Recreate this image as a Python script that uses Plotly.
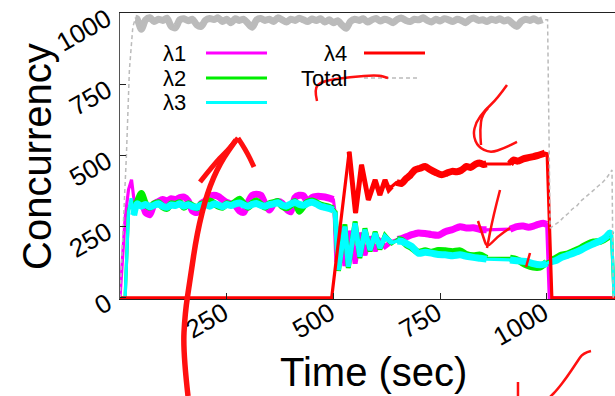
import plotly.graph_objects as go

# ---------------------------------------------------------------------------
# Concurrency of four function classes (λ1..λ4) and their total over time
# ---------------------------------------------------------------------------

# regular sample times of the steady first half (s)
t_steady = list(range(40, 500, 10))          # 40 .. 490

# λ1
lam1_head_t = [0, 12, 20, 27, 34]
lam1_head = [0, 280, 380, 415, 330]
lam1_steady = [340, 345, 300, 292, 330, 338, 345, 340, 348, 345,
               352, 354, 340, 305, 300, 330, 340, 356, 360, 356,
               345, 335, 330, 325, 305, 300, 335, 360, 364, 360,
               330, 308, 330, 338, 332, 312, 302, 352, 360, 358,
               338, 352, 356, 356, 354, 350]
lam1_tail_t = [500, 504, 508, 518, 527, 540, 551, 562, 574, 586,
               598, 609, 621, 637, 650, 660, 672, 684, 699, 715,
               730, 746, 762, 780, 797, 812, 828, 844, 859, 914,
               930, 945, 957, 969, 980, 992, 1000, 1006, 1160]
lam1_tail = [345, 300, 125, 250, 112, 235, 120, 228, 150, 215,
             165, 200, 180, 198, 205, 208, 215, 222, 228, 226,
             222, 220, 232, 240, 250, 245, 246, 240, 239, 241,
             250, 252, 248, 252, 258, 262, 258, 0, 0]

# λ2
lam2_head_t = [0, 12, 20, 28, 34]
lam2_head = [0, 0, 310, 340, 320]
lam2_steady = [335, 366, 330, 318, 330, 334, 320, 314, 330, 328,
               334, 318, 330, 323, 316, 328, 333, 340, 332, 322,
               318, 330, 327, 336, 346, 330, 318, 332, 340, 328,
               318, 330, 334, 338, 322, 316, 326, 338, 304, 322,
               336, 340, 334, 326, 322, 318]

# shared sample times of λ2 / λ3 after 500 s
t_late = [500, 504, 512, 527, 535, 551, 562, 574, 586, 598,
          609, 621, 637, 650, 660, 672, 684, 699, 715, 730,
          746, 762, 780, 797, 812, 828, 844, 859, 914, 930,
          953, 968, 984, 994, 1000, 1008, 1020, 1035, 1050, 1065,
          1080, 1095, 1110, 1125, 1140, 1148, 1152, 1158, 1160]
lam2_tail = [312, 305, 95, 258, 105, 268, 140, 244, 163, 232,
             170, 218, 190, 205, 202, 186, 176, 160, 165, 160,
             166, 165, 162, 165, 152, 148, 150, 139, 139, 134,
             115, 108, 108, 118, 125, 130, 138, 150, 155, 165,
             175, 188, 196, 198, 210, 222, 218, 0, 0]

# λ3
lam3_head_t = [0, 12, 20, 26, 32]
lam3_head = [0, 0, 300, 350, 290]
lam3_steady = [330, 322, 328, 320, 325, 330, 322, 318, 326, 324,
               330, 322, 327, 320, 318, 325, 328, 322, 330, 326,
               320, 328, 324, 330, 333, 326, 322, 328, 331, 325,
               322, 327, 330, 334, 326, 322, 330, 335, 328, 325,
               332, 336, 330, 322, 318, 314]
lam3_tail = [308, 300, 98, 250, 110, 262, 145, 239, 168, 227,
             175, 215, 193, 200, 198, 190, 180, 157, 160, 157,
             152, 151, 148, 151, 146, 142, 139, 136, 133, 130,
             127, 120, 116, 118, 122, 126, 130, 142, 150, 158,
             168, 180, 190, 200, 215, 228, 222, 0, 0]

# λ4
lam4_t = [0, 496, 537, 552, 566, 582, 598, 609, 621, 630,
          637, 648, 660, 670, 680, 691, 703, 715, 727, 740,
          754, 766, 778, 789, 800, 812, 822, 834, 844, 852,
          859, 914, 922, 932, 945, 957, 969, 980, 988, 996,
          1001, 1012, 1160]
lam4 = [0, 0, 513, 298, 467, 344, 414, 361, 414, 380,
        391, 405, 402, 418, 430, 449, 455, 461, 450, 440,
        432, 438, 444, 443, 448, 461, 458, 470, 473, 468,
        470, 470, 484, 480, 488, 492, 496, 500, 504, 508,
        506, 0, 0]

# Total
total_head_t = [0, 10, 15, 22, 30, 36]
total_head = [0, 300, 500, 800, 950, 982]
total_mid_t = list(range(40, 1000, 10))      # 40 .. 990
total_mid = [980, 943, 976, 983, 970, 978, 974, 982, 953, 948,
             976, 980, 973, 978, 958, 953, 974, 981, 977, 983,
             970, 978, 966, 980, 974, 978, 963, 950, 976, 981,
             974, 978, 970, 983, 976, 968, 978, 974, 982, 976,
             970, 979, 974, 980, 968, 976, 966, 973, 958, 946,
             970, 978, 974, 980, 968, 976, 981, 972, 978, 974,
             966, 978, 982, 974, 970, 978, 976, 983, 974, 968,
             978, 972, 980, 976, 970, 978, 974, 966, 978, 982,
             974, 976, 970, 978, 974, 980, 972, 976, 963, 953,
             970, 978, 974, 980, 972, 976]
total_tail_t = [1002, 1008, 1020, 1030, 1040, 1050, 1060, 1070, 1080, 1090,
                1100, 1110, 1120, 1130, 1140, 1148, 1153, 1156, 1160]
total_tail = [976, 245, 258, 268, 284, 296, 312, 322, 340, 352,
              366, 378, 392, 404, 420, 436, 449, 0, 0]

x_ticks = [250, 500, 750, 1000]
y_ticks = [0, 250, 500, 750, 1000]

# stretches drawn heavier: (start s, end s, line width)
STEADY, SETTLE = 7, 5
series = [
    ("λ1", "#ff00ff", lam1_head_t + t_steady + lam1_tail_t,
     lam1_head + lam1_steady + lam1_tail,
     [(34, 500, STEADY), (504, 640, SETTLE), (640, 859, STEADY), (914, 1000, STEADY)]),
    ("λ2", "#00ee00", lam2_head_t + t_steady + t_late,
     lam2_head + lam2_steady + lam2_tail,
     [(34, 500, STEADY), (504, 640, SETTLE), (640, 859, STEADY), (914, 1000, STEADY),
      (1008, 1152, STEADY)]),
    ("λ3", "#00ffff", lam3_head_t + t_steady + t_late,
     lam3_head + lam3_steady + lam3_tail,
     [(32, 500, STEADY), (504, 640, SETTLE), (640, 859, STEADY), (914, 1000, STEADY),
      (1008, 1152, STEADY)]),
    ("λ4", "#ff0000", lam4_t, lam4,
     [(537, 640, SETTLE), (640, 859, STEADY), (914, 1000, STEADY)]),
]
total_t = total_head_t + total_mid_t + total_tail_t
total = total_head + total_mid + total_tail

# ---------------------------------------------------------------------------
FONT = "Liberation Sans, Arial, Helvetica, sans-serif"
W, H = 615, 396
ML, MR, MT, MB = 120, 0, 13, 97
TICK_SIZE = 26


def px(x):
    """pixel column -> paper x"""
    return (x - ML) / (W - ML - MR)


def py(y):
    """pixel row -> paper y"""
    return (H - MB - y) / (H - MT - MB)


def in_window(ts, vs, a, b):
    """keep one jittery stretch only, blank elsewhere"""
    return [v if a <= t <= b else None for t, v in zip(ts, vs)]


def band_line(color, lw):
    # steady stretches get rounded joins; the settling swings stay sharp
    if lw == STEADY:
        return dict(color=color, width=lw, shape="spline", smoothing=0.7)
    return dict(color=color, width=lw)


fig = go.Figure()

for name, color, ts, vs, windows in series:
    fig.add_trace(go.Scatter(x=ts, y=vs, mode="lines", name=name,
                             line=dict(color=color, width=3.2),
                             showlegend=False, hoverinfo="skip"))
    for a, b, lw in windows:
        fig.add_trace(go.Scatter(x=ts, y=in_window(ts, vs, a, b), mode="lines",
                                 line=band_line(color, lw),
                                 connectgaps=False, showlegend=False,
                                 hoverinfo="skip"))

GRAY = "#bbbbbb"
fig.add_trace(go.Scatter(x=total_t, y=in_window(total_t, total, 36, 1000),
                         mode="lines", line=band_line(GRAY, STEADY),
                         connectgaps=False, showlegend=False, hoverinfo="skip"))
fig.add_trace(go.Scatter(x=total_t, y=total, mode="lines", name="Total",
                         line=dict(color=GRAY, width=1.5, dash="4px,3px"),
                         showlegend=False, hoverinfo="skip"))

# ---- axes ---------------------------------------------------------------
axis_common = dict(
    showgrid=False, zeroline=False, showline=True,
    linewidth=1.2, ticks="inside", ticklen=6, tickwidth=1, tickcolor="#222222",
)
fig.update_xaxes(range=[0, 1160], tickvals=x_ticks,
                 ticktext=[str(v) for v in x_ticks], mirror=True,
                 linecolor="#222222", tickangle=-30,
                 tickfont=dict(family=FONT, size=TICK_SIZE, color="black"),
                 ticklabelstandoff=-12, ticklabelshift=-3,
                 **axis_common)
fig.update_yaxes(range=[-4, 1000], tickvals=y_ticks, showticklabels=False,
                 linecolor="#555555", **axis_common)

annotations = [
    dict(text="Concurrency", x=px(37), y=py(157), textangle=-90,
         font=dict(family=FONT, size=40, color="black")),
    dict(text="Time (sec)", x=px(373), y=py(372),
         font=dict(family=FONT, size=40, color="black")),
]

# slanted value labels on the left axis, right end pinned next to each tick
for v in y_ticks:
    label = str(v)
    run = 0.556 * TICK_SIZE * len(label)           # text length in px
    annotations.append(dict(
        text=label, x=px(109 - 0.433 * run), y=v, yref="y",
        yshift=-(3 + 0.25 * run), textangle=-30,
        font=dict(family=FONT, size=TICK_SIZE, color="black")))

# ---- key: label to the left of a line sample, two columns ---------------
key_rows = [
    ("λ1", "#ff00ff", 188, 206, 267, 53, "solid", 3),
    ("λ2", "#00ee00", 188, 206, 267, 78, "solid", 3),
    ("λ3", "#00ffff", 188, 206, 267, 102.5, "solid", 3),
    ("λ4", "#ff0000", 349, 364, 425, 53, "solid", 3),
    ("Total", GRAY, 349, 364, 420, 78, "4px,3px", 1.5),
]
shapes = []
for label, color, tx, x0, x1, y, dash, lw in key_rows:
    annotations.append(dict(text=label, x=px(tx), y=py(y), xanchor="right",
                            yanchor="middle",
                            font=dict(family=FONT, size=22, color="black")))
    shapes.append(dict(type="line", xref="paper", yref="paper",
                       x0=px(x0), x1=px(x1), y0=py(y), y1=py(y),
                       line=dict(color=color, width=lw, dash=dash)))

for a in annotations:
    a.setdefault("xref", "paper")
    a.setdefault("yref", "paper")
    a.update(showarrow=False)
    a.setdefault("xanchor", "center")
    a.setdefault("yanchor", "middle")

# ---- red ink marks drawn over the chart ----------------------------------
ink = [
    (5.5, [(188, 396), (183, 352), (185, 313), (190, 280), (197, 233),
           (207, 193), (220, 163), (236, 140)]),
    (5, [(200, 182), (215, 163), (228, 150), (238, 138)]),
    (5, [(238, 138), (246, 150), (254, 167)]),
    (2.5, [(317, 101), (314, 89), (322, 81), (350, 77), (378, 75), (388, 78)]),
    (2.5, [(507, 85), (497, 99), (485, 110), (476, 122), (473, 135),
           (478, 147), (490, 153), (505, 148), (517, 142)]),
    (2.5, [(488, 108), (482, 114), (480, 130), (481, 145)]),
    (2.5, [(500, 190), (493, 217), (487, 248)]),
    (2.5, [(478, 221), (483, 236), (487, 248), (497, 237), (510, 228)]),
    (2.5, [(530, 253), (526, 267)]),
    (2.5, [(591, 351), (583, 353), (577, 362), (567, 377), (557, 390), (550, 397)]),
    (2.5, [(518, 382), (518, 397)]),
]
for lw, pts in ink:
    p = [(px(x), py(y)) for x, y in pts]
    d = "M {:.4f},{:.4f}".format(*p[0])
    for i in range(1, len(p) - 1):
        mx = (p[i][0] + p[i + 1][0]) / 2
        my = (p[i][1] + p[i + 1][1]) / 2
        d += " Q {:.4f},{:.4f} {:.4f},{:.4f}".format(p[i][0], p[i][1], mx, my)
    d += " L {:.4f},{:.4f}".format(*p[-1])
    shapes.append(dict(type="path", xref="paper", yref="paper", path=d,
                       layer="above", line=dict(color="#ff1010", width=lw)))

fig.update_layout(
    width=W, height=H,
    margin=dict(l=ML, r=MR, t=MT, b=MB, pad=0),
    paper_bgcolor="white", plot_bgcolor="white",
    showlegend=False,
    annotations=annotations, shapes=shapes,
)

fig.write_html("out.html")
